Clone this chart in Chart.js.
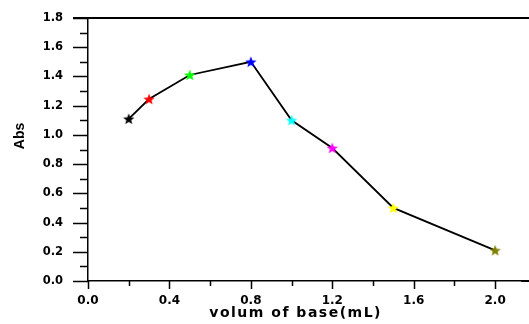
<!DOCTYPE html>
<html>
<head>
<meta charset="utf-8">
<script src="https://cdn.jsdelivr.net/npm/chart.js@4"></script>
<style>
    html, body { margin: 0; padding: 0; background: #fff; }
    #wrap { width: 529px; height: 324px; position: relative; }
</style>
</head>
<body>
<div id="wrap"><canvas id="absChart"></canvas></div>
<script>
const volumes = [0.2, 0.3, 0.5, 0.8, 1.0, 1.2, 1.5, 2.0];
const absValues = [1.11, 1.245, 1.41, 1.50, 1.10, 0.91, 0.50, 0.21];
const markerColors = ["#000000", "#ff0000", "#00ff00", "#0000ff", "#00ffff", "#ff00ff", "#ffff00", "#808000"];
const xTicks = [0.0, 0.4, 0.8, 1.2, 1.6, 2.0];
const xMinorTicks = [0.2, 0.6, 1.0, 1.4, 1.8];
const yTicks = [0.0, 0.2, 0.4, 0.6, 0.8, 1.0, 1.2, 1.4, 1.6, 1.8];
const yMinorTicks = [0.1, 0.3, 0.5, 0.7, 0.9, 1.1, 1.3, 1.5, 1.7];
const xTitle = "volum of base(mL)";
const yTitle = "Abs";

function starImage(color) {
    const size = 14;
    const c = document.createElement("canvas");
    c.width = size;
    c.height = size;
    const ctx = c.getContext("2d");
    const cx = size / 2, cy = size / 2 + 0.5;
    const outer = 6, inner = 2.6;
    ctx.beginPath();
    for (let i = 0; i < 10; i++) {
        const r = i % 2 === 0 ? outer : inner;
        const a = -Math.PI / 2 + i * Math.PI / 5;
        const px = cx + r * Math.cos(a);
        const py = cy + r * Math.sin(a);
        if (i === 0) ctx.moveTo(px, py); else ctx.lineTo(px, py);
    }
    ctx.closePath();
    ctx.fillStyle = color;
    ctx.fill();
    return c;
}

const axisFrame = {
    id: "axisFrame",
    afterDraw(chart) {
        const { ctx, chartArea } = chart;
        const x = chart.scales.x;
        const y = chart.scales.y;
        ctx.save();
        ctx.strokeStyle = "#000";
        ctx.lineWidth = 1.5;
        ctx.beginPath();
        yTicks.forEach(v => {
            const py = Math.round(y.getPixelForValue(v)) + 0.5;
            ctx.moveTo(chartArea.left - 15, py);
            ctx.lineTo(chartArea.left, py);
        });
        yMinorTicks.forEach(v => {
            const py = Math.round(y.getPixelForValue(v)) + 0.5;
            ctx.moveTo(chartArea.left - 8, py);
            ctx.lineTo(chartArea.left, py);
        });
        xTicks.forEach(v => {
            const px = Math.round(x.getPixelForValue(v)) + 0.5;
            ctx.moveTo(px, chartArea.bottom);
            ctx.lineTo(px, chartArea.bottom + 8);
        });
        xMinorTicks.forEach(v => {
            const px = Math.round(x.getPixelForValue(v)) + 0.5;
            ctx.moveTo(px, chartArea.bottom);
            ctx.lineTo(px, chartArea.bottom + 5);
        });
        ctx.stroke();

        // top frame line and bottom axis run off the right edge
        ctx.lineWidth = 2;
        ctx.beginPath();
        ctx.moveTo(chartArea.left - 15, chartArea.top);
        ctx.lineTo(chart.width, chartArea.top);
        ctx.moveTo(chartArea.right, chartArea.bottom);
        ctx.lineTo(chart.width, chartArea.bottom);
        ctx.stroke();

        ctx.fillStyle = "#000";
        ctx.font = "bold 14px 'DejaVu Sans'";
        ctx.textAlign = "center";
        ctx.textBaseline = "middle";
        ctx.letterSpacing = "1.5px";
        ctx.fillText(xTitle, x.getPixelForValue(1.02), 313);

        ctx.letterSpacing = "0px";
        ctx.translate(20, 136);
        ctx.rotate(-Math.PI / 2);
        ctx.font = "bold 14px 'Liberation Sans'";
        ctx.fillText(yTitle, 0, 0);
        ctx.restore();
    }
};

new Chart(document.getElementById("absChart"), {
    type: "line",
    data: {
        datasets: [{
            data: volumes.map((v, i) => ({ x: v, y: absValues[i] })),
            borderColor: "#000",
            borderWidth: 1.8,
            tension: 0,
            pointStyle: markerColors.map(starImage),
            pointRadius: 6,
            pointHoverRadius: 6
        }]
    },
    options: {
        responsive: true,
        maintainAspectRatio: false,
        animation: false,
        events: [],
        layout: { padding: { top: 18, right: 0, left: 0, bottom: 0 } },
        plugins: {
            legend: { display: false },
            tooltip: { enabled: false }
        },
        scales: {
            x: {
                type: "linear",
                min: 0,
                max: 2.128,
                afterBuildTicks(axis) {
                    axis.ticks = xTicks.map(v => ({ value: v }));
                },
                afterFit(axis) {
                    axis.height = 43;
                    axis.paddingRight = 0;
                },
                border: { display: true, color: "#000", width: 1.5 },
                grid: { display: true, drawOnChartArea: false, drawTicks: true, tickLength: 11, tickColor: "rgba(0,0,0,0)" },
                ticks: {
                    color: "#000",
                    padding: 2,
                    maxRotation: 0,
                    font: { family: "'DejaVu Sans'", size: 12, weight: "bold" },
                    callback: v => Number(v).toFixed(1)
                }
            },
            y: {
                min: 0,
                max: 1.8,
                afterBuildTicks(axis) {
                    axis.ticks = yTicks.map(v => ({ value: v }));
                },
                afterFit(axis) {
                    axis.width = 88;
                    axis.paddingTop = 0;
                },
                border: { display: true, color: "#000", width: 1.5 },
                grid: { display: true, drawOnChartArea: false, drawTicks: true, tickLength: 22, tickColor: "rgba(0,0,0,0)" },
                ticks: {
                    color: "#000",
                    padding: 3,
                    font: { family: "'DejaVu Sans'", size: 11.5, weight: "bold" },
                    callback: v => Number(v).toFixed(1)
                }
            }
        }
    },
    plugins: [axisFrame]
});
</script>
</body>
</html>
